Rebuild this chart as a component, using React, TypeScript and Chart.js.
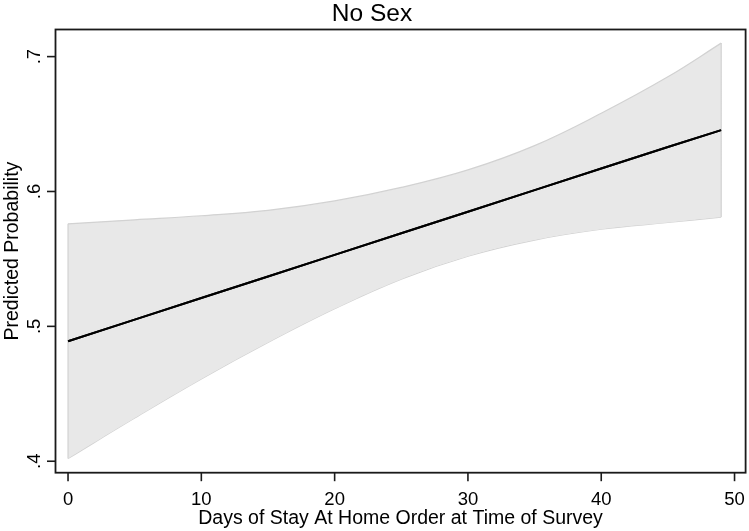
import React, { useEffect, useRef } from "react";
import { Chart, registerables } from "chart.js";

Chart.register(...registerables);

const titleText = "No Sex";
const xAxisTitle = "Days of Stay At Home Order at Time of Survey";
const yAxisTitle = "Predicted Probability";

const days = [0, 5, 10, 15, 20, 25, 30, 35, 40, 45, 49];
const predicted = [0.489, 0.505, 0.521, 0.537, 0.553, 0.569, 0.585, 0.601, 0.617, 0.633, 0.6455];
const upperCI = [0.576, 0.579, 0.582, 0.586, 0.593, 0.603, 0.616, 0.634, 0.658, 0.685, 0.71];
const lowerCI = [0.402, 0.432, 0.461, 0.488, 0.513, 0.535, 0.552, 0.564, 0.572, 0.577, 0.581];

const xTicks = [0, 10, 20, 30, 40, 50];
const xTickLabels = ["0", "10", "20", "30", "40", "50"];
const yTicks = [0.4, 0.5, 0.6, 0.7];
const yTickLabels = [".4", ".5", ".6", ".7"];

const FONT = "'Liberation Sans', Arial, Helvetica, sans-serif";

const decorPlugin = {
  id: "stataDecor",
  afterDatasetsDraw(chart: any) {
    const ctx = chart.ctx;
    const xs = chart.scales.x;
    const ys = chart.scales.y;
    ctx.save();
    ctx.strokeStyle = "#d2d2d2";
    ctx.lineWidth = 1.2;
    [0, days.length - 1].forEach((i) => {
      const px = xs.getPixelForValue(days[i]);
      ctx.beginPath();
      ctx.moveTo(px, ys.getPixelForValue(upperCI[i]));
      ctx.lineTo(px, ys.getPixelForValue(lowerCI[i]));
      ctx.stroke();
    });
    // redraw predicted line on top of band edges
    const meta = chart.getDatasetMeta(2);
    if (meta && meta.dataset) meta.dataset.draw(ctx, chart.chartArea);
    ctx.restore();
  },
  afterDraw(chart: any) {
    const ctx = chart.ctx;
    const a = chart.chartArea;
    const xs = chart.scales.x;
    const ys = chart.scales.y;
    ctx.save();
    ctx.strokeStyle = "#1a1a1a";
    ctx.lineWidth = 1.8;
    ctx.strokeRect(a.left, a.top, a.right - a.left, a.bottom - a.top);
    ctx.lineWidth = 1.6;
    xTicks.forEach((v) => {
      const px = xs.getPixelForValue(v);
      ctx.beginPath();
      ctx.moveTo(px, a.bottom);
      ctx.lineTo(px, a.bottom + 8.5);
      ctx.stroke();
    });
    yTicks.forEach((v) => {
      const py = ys.getPixelForValue(v);
      ctx.beginPath();
      ctx.moveTo(a.left, py);
      ctx.lineTo(a.left - 8.5, py);
      ctx.stroke();
    });
    ctx.fillStyle = "#000000";
    ctx.font = `18.5px ${FONT}`;
    ctx.textAlign = "center";
    ctx.textBaseline = "alphabetic";
    xTicks.forEach((v, i) => {
      ctx.fillText(xTickLabels[i], xs.getPixelForValue(v), 504.5);
    });
    yTicks.forEach((v, i) => {
      const py = ys.getPixelForValue(v);
      ctx.save();
      ctx.translate(39.5, py);
      ctx.rotate(-Math.PI / 2);
      ctx.textAlign = "center";
      ctx.textBaseline = "alphabetic";
      ctx.fillText(yTickLabels[i], 0, 0);
      ctx.restore();
    });
    ctx.font = `19.5px ${FONT}`;
    ctx.textAlign = "center";
    ctx.fillText(xAxisTitle, (a.left + a.right) / 2, 523.5);
    ctx.save();
    ctx.translate(17.5, (a.top + a.bottom) / 2);
    ctx.rotate(-Math.PI / 2);
    ctx.fillText(yAxisTitle, 0, 0);
    ctx.restore();
    ctx.font = `24.5px ${FONT}`;
    ctx.fillText(titleText, 372, 21);
    ctx.restore();
  },
};

export default function App() {
  const canvasRef = useRef<HTMLCanvasElement | null>(null);

  useEffect(() => {
    document.body.style.margin = "0";
    const canvas = canvasRef.current;
    if (!canvas) return;
    const chart = new Chart(canvas, {
      type: "line",
      data: {
        datasets: [
          {
            label: "Upper",
            data: days.map((d, i) => ({ x: d, y: upperCI[i] })),
            borderColor: "#d2d2d2",
            borderWidth: 1.2,
            backgroundColor: "#e8e8e8",
            fill: "+1",
            pointRadius: 0,
            tension: 0.4,
            order: 2,
          },
          {
            label: "Lower",
            data: days.map((d, i) => ({ x: d, y: lowerCI[i] })),
            borderColor: "#d2d2d2",
            borderWidth: 1.2,
            backgroundColor: "#e8e8e8",
            fill: false,
            pointRadius: 0,
            tension: 0.4,
            order: 2,
          },
          {
            label: "Predicted",
            data: days.map((d, i) => ({ x: d, y: predicted[i] })),
            borderColor: "#000000",
            borderWidth: 2,
            fill: false,
            pointRadius: 0,
            order: 1,
          },
        ],
      },
      options: {
        responsive: false,
        animation: false,
        devicePixelRatio: 1,
        layout: { padding: { left: 0, right: 3.4, top: 29.5, bottom: 0 } },
        plugins: {
          legend: { display: false },
          title: { display: false },
          tooltip: { enabled: false },
        },
        scales: {
          x: {
            type: "linear",
            min: -0.94,
            max: 50.83,
            grid: { display: false },
            border: { display: false },
            ticks: { display: false },
            afterFit: (s: any) => {
              s.height = 58.3;
            },
          },
          y: {
            type: "linear",
            min: 0.3915,
            max: 0.7201,
            grid: { display: false },
            border: { display: false },
            ticks: { display: false },
            afterFit: (s: any) => {
              s.width = 55.5;
            },
          },
        },
      },
      plugins: [decorPlugin],
    } as any);
    return () => chart.destroy();
  }, []);

  return (
    <div style={{ width: 749, height: 531, background: "#ffffff" }}>
      <canvas ref={canvasRef} width={749} height={531} style={{ display: "block" }} />
    </div>
  );
}
